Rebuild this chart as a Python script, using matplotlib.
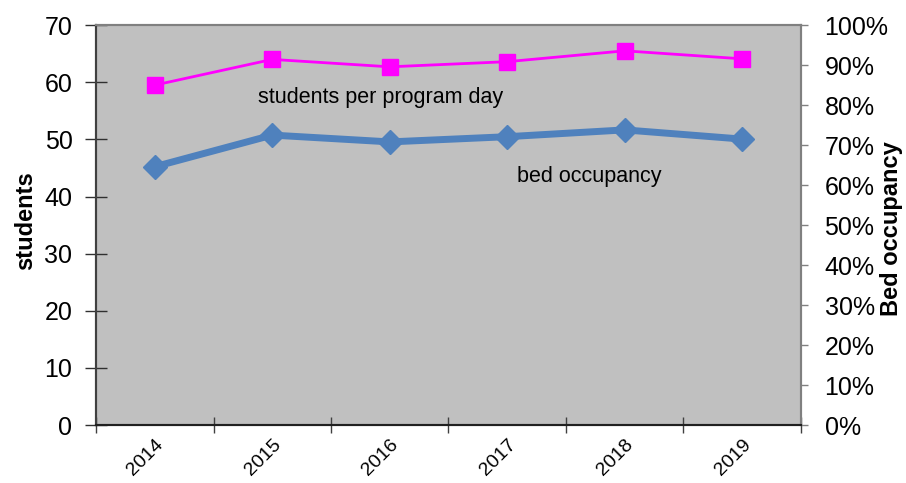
import matplotlib
matplotlib.use("Agg")
import matplotlib.pyplot as plt
from matplotlib.ticker import FixedLocator, PercentFormatter

plt.rcParams['font.family'] = ['Liberation Sans', 'DejaVu Sans']

years = ["2014", "2015", "2016", "2017", "2018", "2019"]
students_per_day = [59.5, 64.0, 62.7, 63.6, 65.5, 64.1]
bed_occupancy = [64.6, 72.5, 70.8, 72.1, 73.8, 71.5]  # percent

fig = plt.figure(figsize=(9.06, 4.83), dpi=100)
ax = fig.add_axes([0.106, 0.120, 0.778, 0.828])
ax.set_facecolor('#C0C0C0')
ax2 = ax.twinx()

x = list(range(len(years)))
ax.plot(x, students_per_day, color='#FF00FF', lw=2, marker='s', ms=11, zorder=3)
ax2.plot(x, bed_occupancy, color='#4F81BD', lw=5, marker='D', ms=12, zorder=3)

ax.set_xlim(-0.5, len(years) - 0.5)
ax.set_ylim(0, 70)
ax.set_yticks(range(0, 71, 10))
ax2.set_ylim(0, 100)
ax2.set_yticks(range(0, 101, 10))
ax2.yaxis.set_major_formatter(PercentFormatter(decimals=0))

ax.xaxis.set_major_locator(FixedLocator([i - 0.5 for i in range(len(years) + 1)]))
ax.xaxis.set_minor_locator(FixedLocator(x))
ax.set_xticklabels([], minor=False)
ax.set_xticklabels(years, minor=True, rotation=45, ha='right', rotation_mode='anchor', fontsize=14)
ax.tick_params(axis='x', which='major', direction='inout', length=12, width=1, color='#404040')
ax.tick_params(axis='x', which='minor', length=0, pad=8)
ax.tick_params(axis='y', direction='inout', length=16, width=1, labelsize=18, color='#303030', pad=9)
ax2.tick_params(axis='y', direction='out', length=5, width=1, labelsize=18, color='#808080', pad=12)

ax.set_ylabel('students', fontsize=17, fontweight='bold')
ax.yaxis.set_label_coords(-0.084, 0.51)
ax2.set_ylabel('Bed occupancy', fontsize=17, fontweight='bold')
ax2.yaxis.set_label_coords(1.112, 0.49)

for a in (ax, ax2):
    a.spines['top'].set_color('#808080')
    a.spines['right'].set_color('#808080')
    a.spines['left'].set_color('#404040')
    a.spines['bottom'].set_color('#202020')
    for s in a.spines.values():
        s.set_linewidth(1.5)

ax.text(1.92, 57.3, 'students per program day', fontsize=15.5, va='center', ha='center')
ax2.text(3.7, 62.2, 'bed occupancy', fontsize=15.5, va='center', ha='center')

fig.savefig('out.png', dpi=100)
